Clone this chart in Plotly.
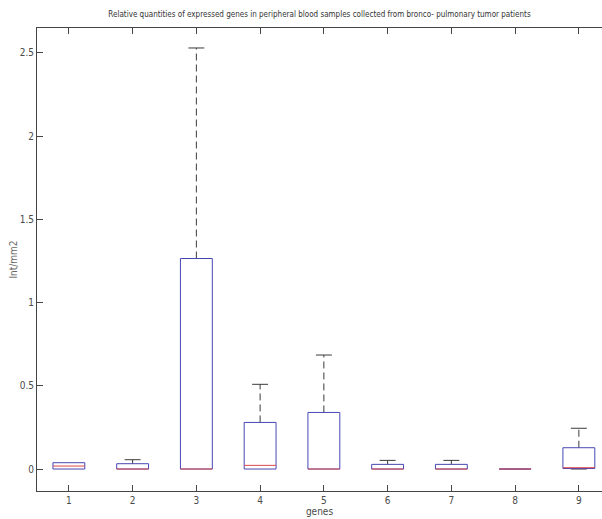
import plotly.graph_objects as go

genes = [1, 2, 3, 4, 5, 6, 7, 8, 9]
lower_whisker = [0, 0, 0, 0, 0, 0, 0, 0, 0]
q1 = [0, 0, 0, 0, 0, 0, 0, 0, 0.003]
median = [0.018, 0.0, 0.0, 0.022, 0.0, 0.0, 0.0, 0.0, 0.008]
q3 = [0.038, 0.032, 1.265, 0.28, 0.34, 0.028, 0.028, 0.0, 0.128]
upper_whisker = [0.038, 0.056, 2.53, 0.509, 0.685, 0.052, 0.052, 0.0, 0.245]

y_ticks = [0, 0.5, 1, 1.5, 2, 2.5]
y_tick_labels = ["0", "0.5", "1", "1.5", "2", "2.5"]

BOX_W = 0.25   # half width
CAP_W = 0.125  # half width
BLUE = "#4747b3"
RED = "#d9484b"
BLACK = "#3a3a3a"
FONT = "Liberation Sans Narrow, DejaVu Sans Condensed, Liberation Sans, sans-serif"

bx, by = [], []
mx, my = [], []
wx, wy = [], []
cx, cy = [], []
for g, lw, a, m, b, uw in zip(genes, lower_whisker, q1, median, q3, upper_whisker):
    bx += [g - BOX_W, g + BOX_W, g + BOX_W, g - BOX_W, g - BOX_W, None]
    by += [a, a, b, b, a, None]
    mx += [g - BOX_W, g + BOX_W, None]
    my += [m, m, None]
    if uw > b:
        wx += [g, g, None]
        wy += [b, uw, None]
        cx += [g - CAP_W, g + CAP_W, None]
        cy += [uw, uw, None]
    if lw < a:
        wx += [g, g, None]
        wy += [lw, a, None]
        cx += [g - CAP_W, g + CAP_W, None]
        cy += [lw, lw, None]

fig = go.Figure()
fig.add_trace(go.Scatter(x=wx, y=wy, mode="lines",
                         line=dict(color=BLACK, width=1, dash="7px,4px"),
                         hoverinfo="skip", showlegend=False))
fig.add_trace(go.Scatter(x=cx, y=cy, mode="lines",
                         line=dict(color=BLACK, width=1),
                         hoverinfo="skip", showlegend=False))
fig.add_trace(go.Scatter(x=bx, y=by, mode="lines",
                         line=dict(color=BLUE, width=1),
                         hoverinfo="skip", showlegend=False))
fig.add_trace(go.Scatter(x=mx, y=my, mode="lines",
                         line=dict(color=RED, width=1),
                         hoverinfo="skip", showlegend=False))

fig.update_layout(
    width=602, height=519,
    margin=dict(l=37, r=0, t=28, b=28),
    paper_bgcolor="white", plot_bgcolor="white",
    font=dict(family=FONT, size=10, color="#4a4a4a"),
    title=dict(
        text="Relative quantities of expressed genes in peripheral blood samples collected from bronco- pulmonary tumor patients",
        x=0.5, xanchor="center", xref="paper", y=1, yref="container",
        yanchor="top", pad=dict(t=11),
        font=dict(family=FONT, size=8, color="#333333"),
    ),
    xaxis=dict(
        range=[0.5, 9.363], tickmode="array", tickvals=genes,
        ticktext=[str(g) for g in genes],
        ticks="inside", ticklen=6, tickcolor="#444444",
        showline=True, linecolor="#444444", linewidth=1,
        mirror="allticks", showgrid=False, zeroline=False,
        title=dict(text="genes", standoff=2, font=dict(size=10)),
    ),
    yaxis=dict(
        range=[-0.132, 2.65], tickmode="array", tickvals=y_ticks,
        ticktext=y_tick_labels,
        ticks="inside", ticklen=6, tickcolor="#444444",
        showline=True, linecolor="#444444", linewidth=1,
        mirror=False, showgrid=False, zeroline=False,
        title=dict(text="Int/mm2", standoff=0, font=dict(size=10, color="#666666")),
    ),
)

fig.write_html("out.html")
